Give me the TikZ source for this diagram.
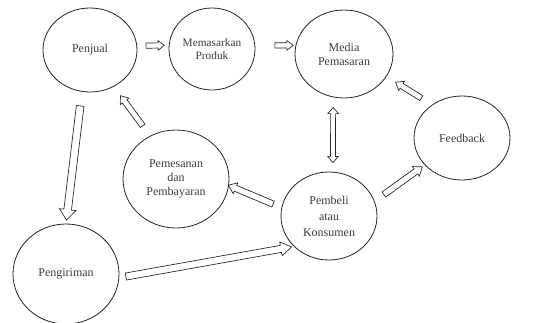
\documentclass[tikz,border=0pt]{standalone}
\usepackage{fontspec}
\setmainfont{Liberation Serif}
\usetikzlibrary{shapes.geometric}
\usetikzlibrary{shapes.arrows}
\usetikzlibrary{calc}
\definecolor{outline}{RGB}{35,35,35}
\definecolor{label}{RGB}{60,60,60}

\begin{document}
\begin{tikzpicture}[x=0.75pt, y=-0.75pt]
            \tikzset{stage/.style={ellipse, draw=outline, line width=0.6pt, inner sep=0pt, align=center, text=label, font=\fontsize{9}{10.5}\selectfont}}
            \tikzset{gap start/.initial=4pt, gap end/.initial=4pt}
            \tikzset{arrow body/.style n args={3}{draw=outline, line width=0.5pt, fill=white, inner xsep=0pt, inner ysep=#1,
                single arrow head extend=#2, double arrow head extend=#2, single arrow tip angle=#3, double arrow tip angle=#3}}
            \tikzset{hollow arrow/.style n args={4}{to path={
                let \p1=($(\tikztostart)!\pgfkeysvalueof{/tikz/gap start}!(\tikztotarget)$),
                    \p2=($(\tikztotarget)!\pgfkeysvalueof{/tikz/gap end}!(\tikztostart)$),
                    \n1={veclen(\x2-\x1,\y2-\y1)}, \n2={atan2(\y2-\y1,\x2-\x1)} in
                ($(\p1)!0.5!(\p2)$) node[#1, arrow body={#2}{#3}{#4}, minimum height=\n1, rotate=\n2] {}}}}
            \useasboundingbox (0, 0) rectangle (545, 322);
            \clip (0, 0) rectangle (545, 322);

            \node[stage, minimum width=70.5pt, minimum height=63pt] (penjual) at (90, 50) {Penjual};
            \node[stage, minimum width=64.5pt, minimum height=61.5pt, font=\fontsize{8.5}{9.6}\selectfont] (memasarkan) at (212, 49) {Memasarkan\\Produk};
            \node[stage, minimum width=73.5pt, minimum height=66pt, font=\fontsize{9}{10.5}\selectfont] (media) at (344, 54) {Media\\Pemasaran};
            \node[stage, minimum width=72pt, minimum height=63pt] (feedback) at (462, 138) {Feedback};
            \node[stage, minimum width=79.5pt, minimum height=73.5pt] (pemesanan) at (176, 179) {Pemesanan\\dan\\Pembayaran};
            \node[stage, minimum width=72pt, minimum height=66pt, font=\fontsize{9}{12}\selectfont] (pembeli) at (329, 216) {Pembeli\\atau\\Konsumen};
            \node[stage, minimum width=79.5pt, minimum height=75pt] (pengiriman) at (66, 274) {Pengiriman};

            \draw[hollow arrow={single arrow}{1.7pt}{1.7pt}{75}, gap start=5.4pt, gap end=4.6pt] (penjual.5) to (memasarkan.175);
            \draw[hollow arrow={single arrow}{1.7pt}{1.7pt}{75}, gap start=13.5pt, gap end=3pt] (memasarkan.5) to (media.170);
            \draw[hollow arrow={single arrow}{1.9pt}{1.9pt}{75}, gap start=8pt, gap end=9.4pt] (feedback.132) to (media.-28);
            \draw[hollow arrow={double arrow}{1.6pt}{2.1pt}{80}, gap start=7.5pt, gap end=6.8pt] (media.256) to (pembeli.85);
            \draw[hollow arrow={single arrow}{2.1pt}{2.1pt}{75}, gap start=7pt, gap end=3.8pt] (pembeli.18) to (feedback.216);
            \draw[hollow arrow={single arrow}{2.1pt}{2.1pt}{75}, gap start=5.3pt, gap end=1.1pt] (pembeli.170) to (pemesanan.-7);
            \draw[hollow arrow={single arrow}{1.9pt}{1.9pt}{75}, gap start=7.9pt, gap end=9.8pt] (pemesanan.121) to (penjual.-57);
            \draw[hollow arrow={single arrow}{2.6pt}{3.4pt}{77}, gap start=8.9pt, gap end=4.5pt] (penjual.259) to (pengiriman.90);
            \draw[hollow arrow={single arrow}{2.4pt}{2.6pt}{66}, gap start=3pt, gap end=3.8pt] (pengiriman.-4) to (pembeli.221);
\end{tikzpicture}
\end{document}
